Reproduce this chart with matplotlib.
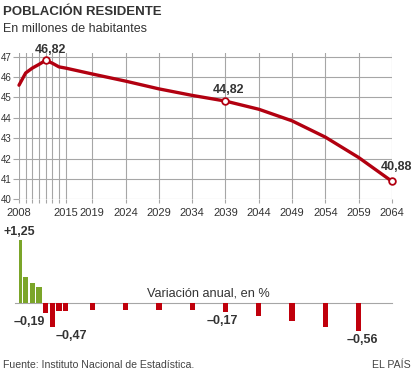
import matplotlib
matplotlib.use("Agg")
import matplotlib.pyplot as plt
from matplotlib.ticker import FixedLocator, FixedFormatter

plt.rcParams['font.family'] = ['Liberation Sans', 'DejaVu Sans']

# ---- data ----
years = [2008, 2009, 2010, 2011, 2012, 2013, 2014, 2015, 2019, 2024, 2029,
         2034, 2039, 2044, 2049, 2054, 2059, 2064]
population = [45.60, 46.20, 46.44, 46.62, 46.82, 46.68, 46.50, 46.44, 46.15,
              45.80, 45.42, 45.10, 44.82, 44.42, 43.85, 43.05, 42.05, 40.88]
marked_years = [2012, 2039, 2064]
marked_labels = ["46,82", "44,82", "40,88"]

var_years = [2008, 2009, 2010, 2011, 2012, 2013, 2014, 2015, 2019, 2024,
             2029, 2034, 2039, 2044, 2049, 2054, 2059]
variation = [1.25, 0.52, 0.39, 0.32, -0.19, -0.47, -0.15, -0.15, -0.14,
             -0.14, -0.14, -0.14, -0.17, -0.25, -0.36, -0.47, -0.56]
var_labels = {2008: "+1,25", 2012: "\u20130,19", 2013: "\u20130,47",
              2039: "\u20130,17", 2059: "\u20130,56"}

tick_labels_years = [2008, 2015, 2019, 2024, 2029, 2034, 2039, 2044, 2049,
                     2054, 2059, 2064]
yticks = [40, 41, 42, 43, 44, 45, 46, 47]

# ---- figure ----
W, H = 414, 374
fig = plt.figure(figsize=(W / 100, H / 100), dpi=100)

def ax_rect(left, top, right, bottom):
    return [left / W, 1 - bottom / H, (right - left) / W, (bottom - top) / H]

LINE_RED = "#b20010"
BAR_RED = "#c0000c"
GREEN = "#7ba529"
GRID = "#a6a6a6"
TXT = "#333333"

# top axes: 2008 -> x=19, 2064 -> x=392 ; 40 -> y=199.3, 47.2 -> y=52.6
ax = fig.add_axes(ax_rect(19, 52.6, 392, 199.3))
ax.set_xlim(2008, 2064)
ax.set_ylim(40, 47.2)
for s in ax.spines.values():
    s.set_visible(False)

grid_years = years
for gy in grid_years:
    ax.axvline(gy, color=GRID, lw=0.8, zorder=1)
for yv in yticks:
    ax.axhline(yv, color=GRID, lw=0.8, zorder=1)

ax.xaxis.set_major_locator(FixedLocator(grid_years))
ax.xaxis.set_major_formatter(FixedFormatter(
    [str(y) if y in tick_labels_years else "" for y in grid_years]))
ax.tick_params(axis='x', length=3, width=0.8, color=GRID, pad=3,
               labelsize=8, labelcolor=TXT)
ax.set_yticks(yticks)
ax.set_yticklabels([str(v) for v in yticks])
ax.tick_params(axis='y', length=4, width=0.8, color=GRID, pad=1,
               labelsize=7, labelcolor=TXT)

ax.plot(years, population, color=LINE_RED, lw=2.4, zorder=3,
        solid_capstyle='round', solid_joinstyle='round', clip_on=False)
mv = [population[years.index(y)] for y in marked_years]
ax.plot(marked_years, mv, 'o', ms=4.8, mfc='white', mec=LINE_RED, mew=1.3,
        zorder=4, clip_on=False)
offsets = [(4.5, 10), (3.5, 11.5), (4.5, 14)]
for y, v, lab, (dx, dy) in zip(marked_years, mv, marked_labels, offsets):
    ax.annotate(lab, (y, v), xytext=(dx, dy), textcoords='offset pixels',
                ha='center', va='center', fontsize=9, fontweight='bold',
                color=TXT, annotation_clip=False)

# bottom axes: baseline y=303, 50.4 px per unit
b_top_val, b_bot_val = 1.3, -0.62
axb = fig.add_axes(ax_rect(19, 303 - b_top_val * 50.4, 392,
                           303 - b_bot_val * 50.4))
axb.set_xlim(2008, 2064)
axb.set_ylim(b_bot_val, b_top_val)
axb.axis('off')
colors = [GREEN if v > 0 else BAR_RED for v in variation]
axb.bar(var_years, variation, width=0.8, color=colors, zorder=3)
axb.plot([2007.4, 2064], [0, 0], color=GRID, lw=0.8, zorder=2, clip_on=False)

lab_off = {2008: (0, 8), 2012: (-2.5, -9), 2013: (2.8, -9),
           2039: (-0.5, -9), 2059: (0.5, -9)}
for y, lab in var_labels.items():
    v = variation[var_years.index(y)]
    dx, dy = lab_off[y]
    axb.annotate(lab, (y, v), xytext=(dx * 6.66, dy), textcoords='offset pixels',
                 ha='center', va='center', fontsize=9, fontweight='bold',
                 color=TXT, annotation_clip=False)

fig.text(208 / W, 1 - 293.3 / H, "Variación anual, en %", ha='center',
         va='center', fontsize=9.2, color=TXT)

# titles and footer
fig.text(3 / W, 1 - 12 / H, "POBLACIÓN RESIDENTE", ha='left', va='center',
         fontsize=9.5, fontweight='bold', color=TXT)
fig.text(3 / W, 1 - 28.5 / H, "En millones de habitantes", ha='left',
         va='center', fontsize=9, color=TXT)
fig.text(3 / W, 1 - 365 / H, "Fuente: Instituto Nacional de Estadística.",
         ha='left', va='center', fontsize=7.6, color="#444444")
fig.text(411 / W, 1 - 365 / H, "EL PAÍS", ha='right', va='center',
         fontsize=7.6, color="#444444")

fig.savefig("out.png", dpi=100, facecolor='white')
